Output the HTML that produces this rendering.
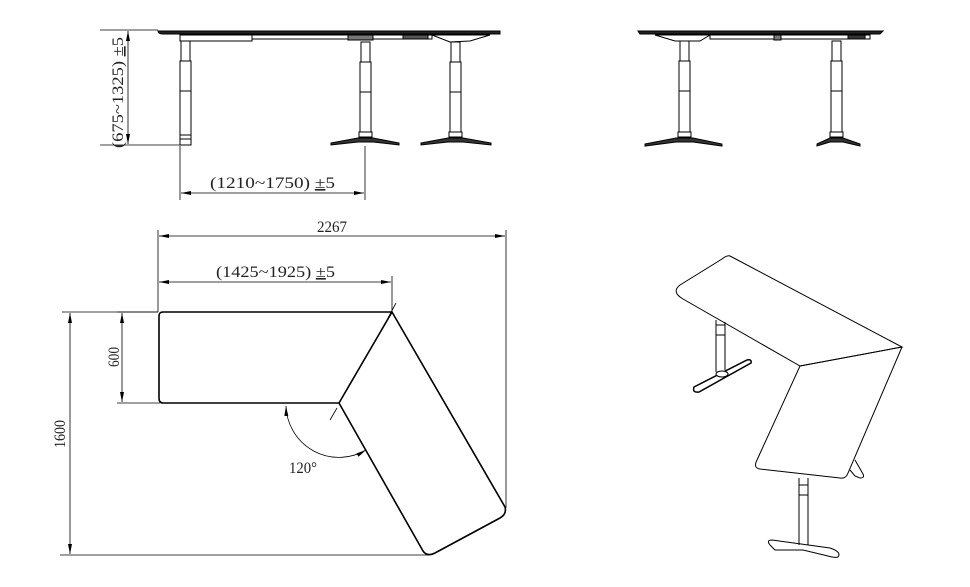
<!DOCTYPE html>
<html><head><meta charset="utf-8"><style>
html,body{margin:0;padding:0;background:#fff;}
svg{display:block}
text{font-family:"Liberation Serif","Noto Serif CJK SC",serif;fill:#222;}
</style></head><body>
<svg width="970" height="587" viewBox="0 0 970 587" xmlns="http://www.w3.org/2000/svg">
<defs>
<marker id="a" viewBox="0 0 10 4" refX="10" refY="2" markerWidth="10" markerHeight="4" orient="auto-start-reverse" markerUnits="userSpaceOnUse"><path d="M0,0 L10,2 L0,4z" fill="#000"/></marker>
</defs>
<g stroke="#000" fill="none" stroke-width="1">
<!-- ===== left elevation ===== -->
<path d="M158,31 L500,31 L500,34 L163,34 Q158,34 158,31z" fill="#222"/>
<rect x="180" y="35" width="72" height="6"/>
<rect x="252" y="35" width="180" height="4"/>
<rect x="348" y="35" width="25" height="5" fill="#777"/>
<rect x="403" y="35" width="25" height="4" fill="#555"/>
<path d="M432,35 L490,35 L470,41 L450,42z"/>
<!-- legs -->
<rect x="181" y="41" width="9" height="20"/><rect x="180" y="61" width="11" height="30"/><rect x="180" y="91" width="11" height="44"/>
<rect x="180" y="135" width="11" height="10" fill="#fff"/>
<line x1="180" y1="139" x2="191" y2="139"/>
<rect x="361" y="42" width="9" height="20"/><rect x="360" y="62" width="11" height="30"/><rect x="360" y="92" width="11" height="40"/>
<rect x="359" y="132" width="13" height="5" fill="#fff"/>
<path d="M331,143 L358,138 L373,138 L399,143 L399,145 L373,142 L358,142 L331,145z" fill="#333"/>
<rect x="451" y="42" width="9" height="20"/><rect x="450" y="62" width="11" height="30"/><rect x="450" y="92" width="11" height="40"/>
<rect x="449" y="132" width="13" height="5" fill="#fff"/>
<path d="M421,143 L448,138 L463,138 L491,143 L491,145 L463,142 L448,142 L421,145z" fill="#333"/>
<!-- dims -->
<line x1="100" y1="30" x2="158" y2="30" stroke-width="0.8"/>
<line x1="100" y1="145" x2="180" y2="145" stroke-width="0.8"/>
<line x1="128" y1="31" x2="128" y2="144" marker-start="url(#a)" marker-end="url(#a)" stroke-width="0.8"/>
<line x1="180" y1="146" x2="180" y2="200" stroke-width="0.8"/>
<line x1="365" y1="146" x2="365" y2="200" stroke-width="0.8"/>
<line x1="181" y1="193" x2="364" y2="193" marker-start="url(#a)" marker-end="url(#a)" stroke-width="0.8"/>

<!-- ===== right elevation ===== -->
<path d="M638,31 L883,31 L880,34 L640,34z" fill="#222"/>
<path d="M655,35 L710,35 L700,41 L675,41z"/>
<rect x="710" y="35" width="160" height="4"/>
<rect x="774" y="35" width="7" height="5" fill="#777"/>
<rect x="848" y="35" width="17" height="4" fill="#333"/>
<rect x="680" y="41" width="9" height="20"/><rect x="679" y="61" width="11" height="30"/><rect x="679" y="91" width="11" height="41"/>
<rect x="678" y="132" width="13" height="5" fill="#fff"/>
<path d="M645,144 L676,138 L693,138 L722,144 L722,146 L693,142 L676,142 L645,146z" fill="#333"/>
<rect x="832" y="41" width="9" height="20"/><rect x="831" y="61" width="11" height="30"/><rect x="831" y="91" width="11" height="41"/>
<rect x="830" y="132" width="13" height="5" fill="#fff"/>
<path d="M817,144 L830,138 L843,138 L860,144 L860,146 L843,142 L830,142 L817,146z" fill="#333"/>

<!-- ===== plan view ===== -->
<g stroke-width="1.6">
<path d="M163,312 L392,312 L505,507 Q507,514 500,518 L435,553 Q427,557 423,551 L339,403 L163,403 Q159,403 159,398 L159,316 Q159,312 163,312z"/>
<line x1="339" y1="403" x2="392" y2="312"/>
</g>
<g stroke-width="0.8">
<line x1="158" y1="230" x2="158" y2="312"/>
<line x1="506" y1="230" x2="506" y2="508"/>
<line x1="159" y1="236" x2="505" y2="236" marker-start="url(#a)" marker-end="url(#a)"/>
<line x1="392" y1="276" x2="392" y2="312"/>
<line x1="159" y1="282" x2="391" y2="282" marker-start="url(#a)" marker-end="url(#a)"/>
<line x1="388" y1="318" x2="396" y2="303"/>
<line x1="330" y1="420" x2="337" y2="408"/>
<line x1="117" y1="312" x2="158" y2="312"/>
<line x1="117" y1="403" x2="160" y2="403"/>
<line x1="122" y1="313" x2="122" y2="402" marker-start="url(#a)" marker-end="url(#a)"/>
<line x1="62" y1="312" x2="158" y2="312"/>
<line x1="60" y1="555" x2="430" y2="555"/>
<line x1="70" y1="313" x2="70" y2="554" marker-start="url(#a)" marker-end="url(#a)"/>
<path d="M286,406 A53,53 0 0 0 366,450" marker-start="url(#a)" marker-end="url(#a)"/>
</g>

<!-- ===== isometric ===== -->
<path d="M730,256 L902,347 L800,366 L683,299 Q671,292 680,285 L722,259 Q727,255 730,256z"/>
<path d="M800,366 L757,460 Q753,468 760,469 L840,478 Q846,479 848,473 L902,347"/>
<line x1="800" y1="366" x2="902" y2="347"/>
<path d="M855,460 L863,474 Q865,478 860,478 L855,476 L850,470"/>
<path d="M716,320 L716,372 M725,322 L725,370"/>
<rect x="716" y="325" width="9" height="10" fill="none"/>
<path d="M694,387 L747,360 Q752,359 751,363 L699,392 Q692,393 694,387z" fill="#fff" stroke-width="1.5"/>
<ellipse cx="722" cy="374" rx="6" ry="3" fill="#fff"/>
<path d="M799,478 L799,545 M808,478 L808,545"/>
<rect x="799" y="485" width="9" height="10"/>
<path d="M770,545 Q766,540 772,540 L830,548 Q842,552 838,557 Q835,558 828,556 L803,550 L775,550z"/>
</g>

<g font-size="16">
<text x="317" y="232" textLength="30" lengthAdjust="spacingAndGlyphs">2267</text>
<text x="216" y="277" textLength="119" lengthAdjust="spacingAndGlyphs">(1425~1925) <tspan text-decoration="underline">±</tspan>5</text>
<text x="210" y="188" textLength="125" lengthAdjust="spacingAndGlyphs">(1210~1750) <tspan text-decoration="underline">±</tspan>5</text>
<text x="289" y="473" textLength="28" lengthAdjust="spacingAndGlyphs">120°</text>
<text transform="translate(119,367) rotate(-90)" textLength="20" lengthAdjust="spacingAndGlyphs">600</text>
<text transform="translate(65,448) rotate(-90)" textLength="28" lengthAdjust="spacingAndGlyphs">1600</text>
<text transform="translate(123,148) rotate(-90)" textLength="111" lengthAdjust="spacingAndGlyphs">(675~1325) <tspan text-decoration="underline">±</tspan>5</text>
</g>
</svg>
</body></html>
